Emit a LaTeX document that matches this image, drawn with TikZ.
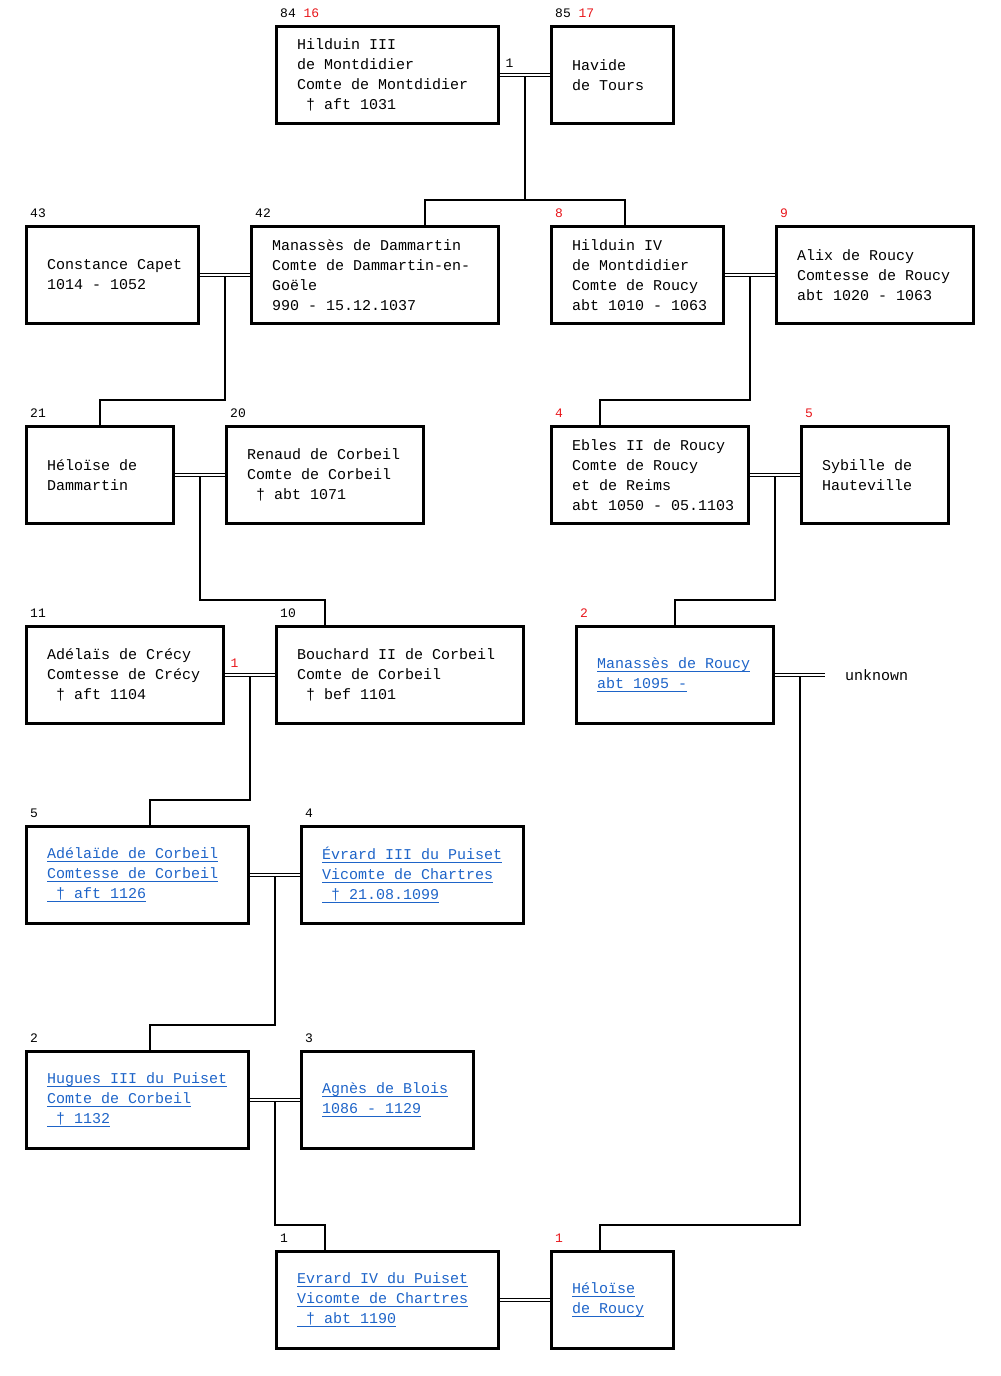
\documentclass[tikz,border=0pt]{standalone}
\usepackage{fontspec}
\setmonofont{Liberation Mono}
\usepackage{tikz}
\usetikzlibrary{positioning,calc}
\usepackage{xcolor}
\definecolor{LinkBlue}{HTML}{1E64C8}
\definecolor{NumRed}{HTML}{E8161B}
\newsavebox{\lnkbox}
\newcommand{\lnk}[1]{\textcolor{LinkBlue}{\sbox{\lnkbox}{#1}\rlap{\rule[-3pt]{\wd\lnkbox}{1pt}}\usebox{\lnkbox}}}
\newcommand{\rd}[1]{\textcolor{NumRed}{#1}}
\tikzset{
  pbox/.style={draw,line width=3pt,outer sep=1.5pt,inner sep=0pt,minimum height=97pt,anchor=north west},
  ptxt/.style={anchor=west,xshift=22pt,align=left,inner sep=0pt,font=\ttfamily\fontsize{15}{20}\selectfont},
  pnum/.style={anchor=south west,xshift=5pt,yshift=7pt,inner sep=0pt,font=\ttfamily\fontsize{13}{13}\selectfont},
  utxt/.style={inner xsep=20pt,inner ysep=0pt,outer sep=0pt,font=\ttfamily\fontsize{15}{20}\selectfont},
  wed/.style={double,double distance=1.5pt,line width=1pt},
  desc/.style={line width=2pt}
}
\begin{document}
\begin{tikzpicture}[x=1pt,y=-1pt]
  \useasboundingbox (0,0) rectangle (1001,1376);
  \node[pbox,minimum width=222pt,label={[pnum]north west:84 \rd{16}},
    label={[ptxt]west:{Hilduin III\\de Montdidier\\Comte de Montdidier\\\mbox{}~† aft 1031}}] (a1) at (275,25) {};
  \node[pbox,minimum width=122pt,right=50pt of a1,label={[pnum]north west:85 \rd{17}},
    label={[ptxt]west:{Havide\\de Tours}}] (a2) {};

  \node[pbox,minimum width=172pt,label={[pnum]north west:43},
    label={[ptxt]west:{Constance Capet\\1014 - 1052}}] (b1) at (25,225) {};
  \node[pbox,minimum width=247pt,right=50pt of b1,label={[pnum]north west:42},
    label={[ptxt]west:{Manassès de Dammartin\\Comte de Dammartin-en-\\Goële\\990 - 15.12.1037}}] (b2) {};
  \node[pbox,minimum width=172pt,right=50pt of b2,label={[pnum]north west:\rd{8}},
    label={[ptxt]west:{Hilduin IV\\de Montdidier\\Comte de Roucy\\abt 1010 - 1063}}] (b3) {};
  \node[pbox,minimum width=197pt,right=50pt of b3,label={[pnum]north west:\rd{9}},
    label={[ptxt]west:{Alix de Roucy\\Comtesse de Roucy\\abt 1020 - 1063}}] (b4) {};

  \node[pbox,minimum width=147pt,label={[pnum]north west:21},
    label={[ptxt]west:{Héloïse de\\Dammartin}}] (c1) at (25,425) {};
  \node[pbox,minimum width=197pt,right=50pt of c1,label={[pnum]north west:20},
    label={[ptxt]west:{Renaud de Corbeil\\Comte de Corbeil\\\mbox{}~† abt 1071}}] (c2) {};
  \node[pbox,minimum width=197pt,right=125pt of c2,label={[pnum]north west:\rd{4}},
    label={[ptxt]west:{Ebles II de Roucy\\Comte de Roucy\\et de Reims\\abt 1050 - 05.1103}}] (c3) {};
  \node[pbox,minimum width=147pt,right=50pt of c3,label={[pnum]north west:\rd{5}},
    label={[ptxt]west:{Sybille de\\Hauteville}}] (c4) {};

  \node[pbox,minimum width=197pt,label={[pnum]north west:11},
    label={[ptxt]west:{Adélaïs de Crécy\\Comtesse de Crécy\\\mbox{}~† aft 1104}}] (d1) at (25,625) {};
  \node[pbox,minimum width=247pt,right=50pt of d1,label={[pnum]north west:10},
    label={[ptxt]west:{Bouchard II de Corbeil\\Comte de Corbeil\\\mbox{}~† bef 1101}}] (d2) {};
  \node[pbox,minimum width=197pt,right=50pt of d2,label={[pnum]north west:\rd{2}},
    label={[ptxt]west:{\lnk{Manassès de Roucy}\\\lnk{abt 1095 -}}}] (d3) {};
  \node[utxt,right=50pt of d3] (unk) {unknown};

  \node[pbox,minimum width=222pt,label={[pnum]north west:5},
    label={[ptxt]west:{\lnk{Adélaïde de Corbeil}\\\lnk{Comtesse de Corbeil}\\\lnk{~† aft 1126}}}] (e1) at (25,825) {};
  \node[pbox,minimum width=222pt,right=50pt of e1,label={[pnum]north west:4},
    label={[ptxt]west:{\lnk{Évrard III du Puiset}\\\lnk{Vicomte de Chartres}\\\lnk{~† 21.08.1099}}}] (e2) {};

  \node[pbox,minimum width=222pt,label={[pnum]north west:2},
    label={[ptxt]west:{\lnk{Hugues III du Puiset}\\\lnk{Comte de Corbeil}\\\lnk{~† 1132}}}] (f1) at (25,1050) {};
  \node[pbox,minimum width=172pt,right=50pt of f1,label={[pnum]north west:3},
    label={[ptxt]west:{\lnk{Agnès de Blois}\\\lnk{1086 - 1129}}}] (f2) {};

  \node[pbox,minimum width=222pt,label={[pnum]north west:1},
    label={[ptxt]west:{\lnk{Evrard IV du Puiset}\\\lnk{Vicomte de Chartres}\\\lnk{~† abt 1190}}}] (g1) at (275,1250) {};
  \node[pbox,minimum width=122pt,right=50pt of g1,label={[pnum]north west:\rd{1}},
    label={[ptxt]west:{\lnk{Héloïse}\\\lnk{de Roucy}}}] (g2) {};

  \coordinate (m1) at ($(a1.east)!.5!(a2.west)$);
  \coordinate (m2) at ($(b1.east)!.5!(b2.west)$);
  \coordinate (m3) at ($(b3.east)!.5!(b4.west)$);
  \coordinate (m4) at ($(c1.east)!.5!(c2.west)$);
  \coordinate (m5) at ($(c3.east)!.5!(c4.west)$);
  \coordinate (m6) at ($(d1.east)!.5!(d2.west)$);
  \coordinate (m7) at ($(d3.east)!.5!(unk.west)$);
  \coordinate (m8) at ($(e1.east)!.5!(e2.west)$);
  \coordinate (m9) at ($(f1.east)!.5!(f2.west)$);

  \draw[desc] (m1) |- ([xshift=50pt,yshift=25pt]b2.north) -- ([xshift=50pt]b2.north);
  \draw[desc] (m1) |- ([xshift=-12.5pt,yshift=25pt]b3.north) -- ([xshift=-12.5pt]b3.north);
  \draw[desc] (m2) |- ([yshift=25pt]c1.north) -- (c1.north);
  \draw[desc] (m3) |- ([xshift=-50pt,yshift=25pt]c3.north) -- ([xshift=-50pt]c3.north);
  \draw[desc] (m4) |- ([xshift=-75pt,yshift=25pt]d2.north) -- ([xshift=-75pt]d2.north);
  \draw[desc] (m5) |- ([yshift=25pt]d3.north) -- (d3.north);
  \draw[desc] (m6) |- ([xshift=12.5pt,yshift=25pt]e1.north) -- ([xshift=12.5pt]e1.north);
  \draw[desc] (m7) |- ([xshift=-12.5pt,yshift=25pt]g2.north) -- ([xshift=-12.5pt]g2.north);
  \draw[desc] (m8) |- ([xshift=12.5pt,yshift=25pt]f1.north) -- ([xshift=12.5pt]f1.north);
  \draw[desc] (m9) |- ([xshift=-62.5pt,yshift=25pt]g1.north) -- ([xshift=-62.5pt]g1.north);

  \draw[wed] (a1.east) -- node[pnum,pos=0] {1} (a2.west);
  \draw[wed] (b1.east) -- (b2.west);
  \draw[wed] (b3.east) -- (b4.west);
  \draw[wed] (c1.east) -- (c2.west);
  \draw[wed] (c3.east) -- (c4.west);
  \draw[wed] (d1.east) -- node[pnum,pos=0] {\rd{1}} (d2.west);
  \draw[wed] (d3.east) -- (unk.west);
  \draw[wed] (e1.east) -- (e2.west);
  \draw[wed] (f1.east) -- (f2.west);
  \draw[wed] (g1.east) -- (g2.west);
\end{tikzpicture}
\end{document}
